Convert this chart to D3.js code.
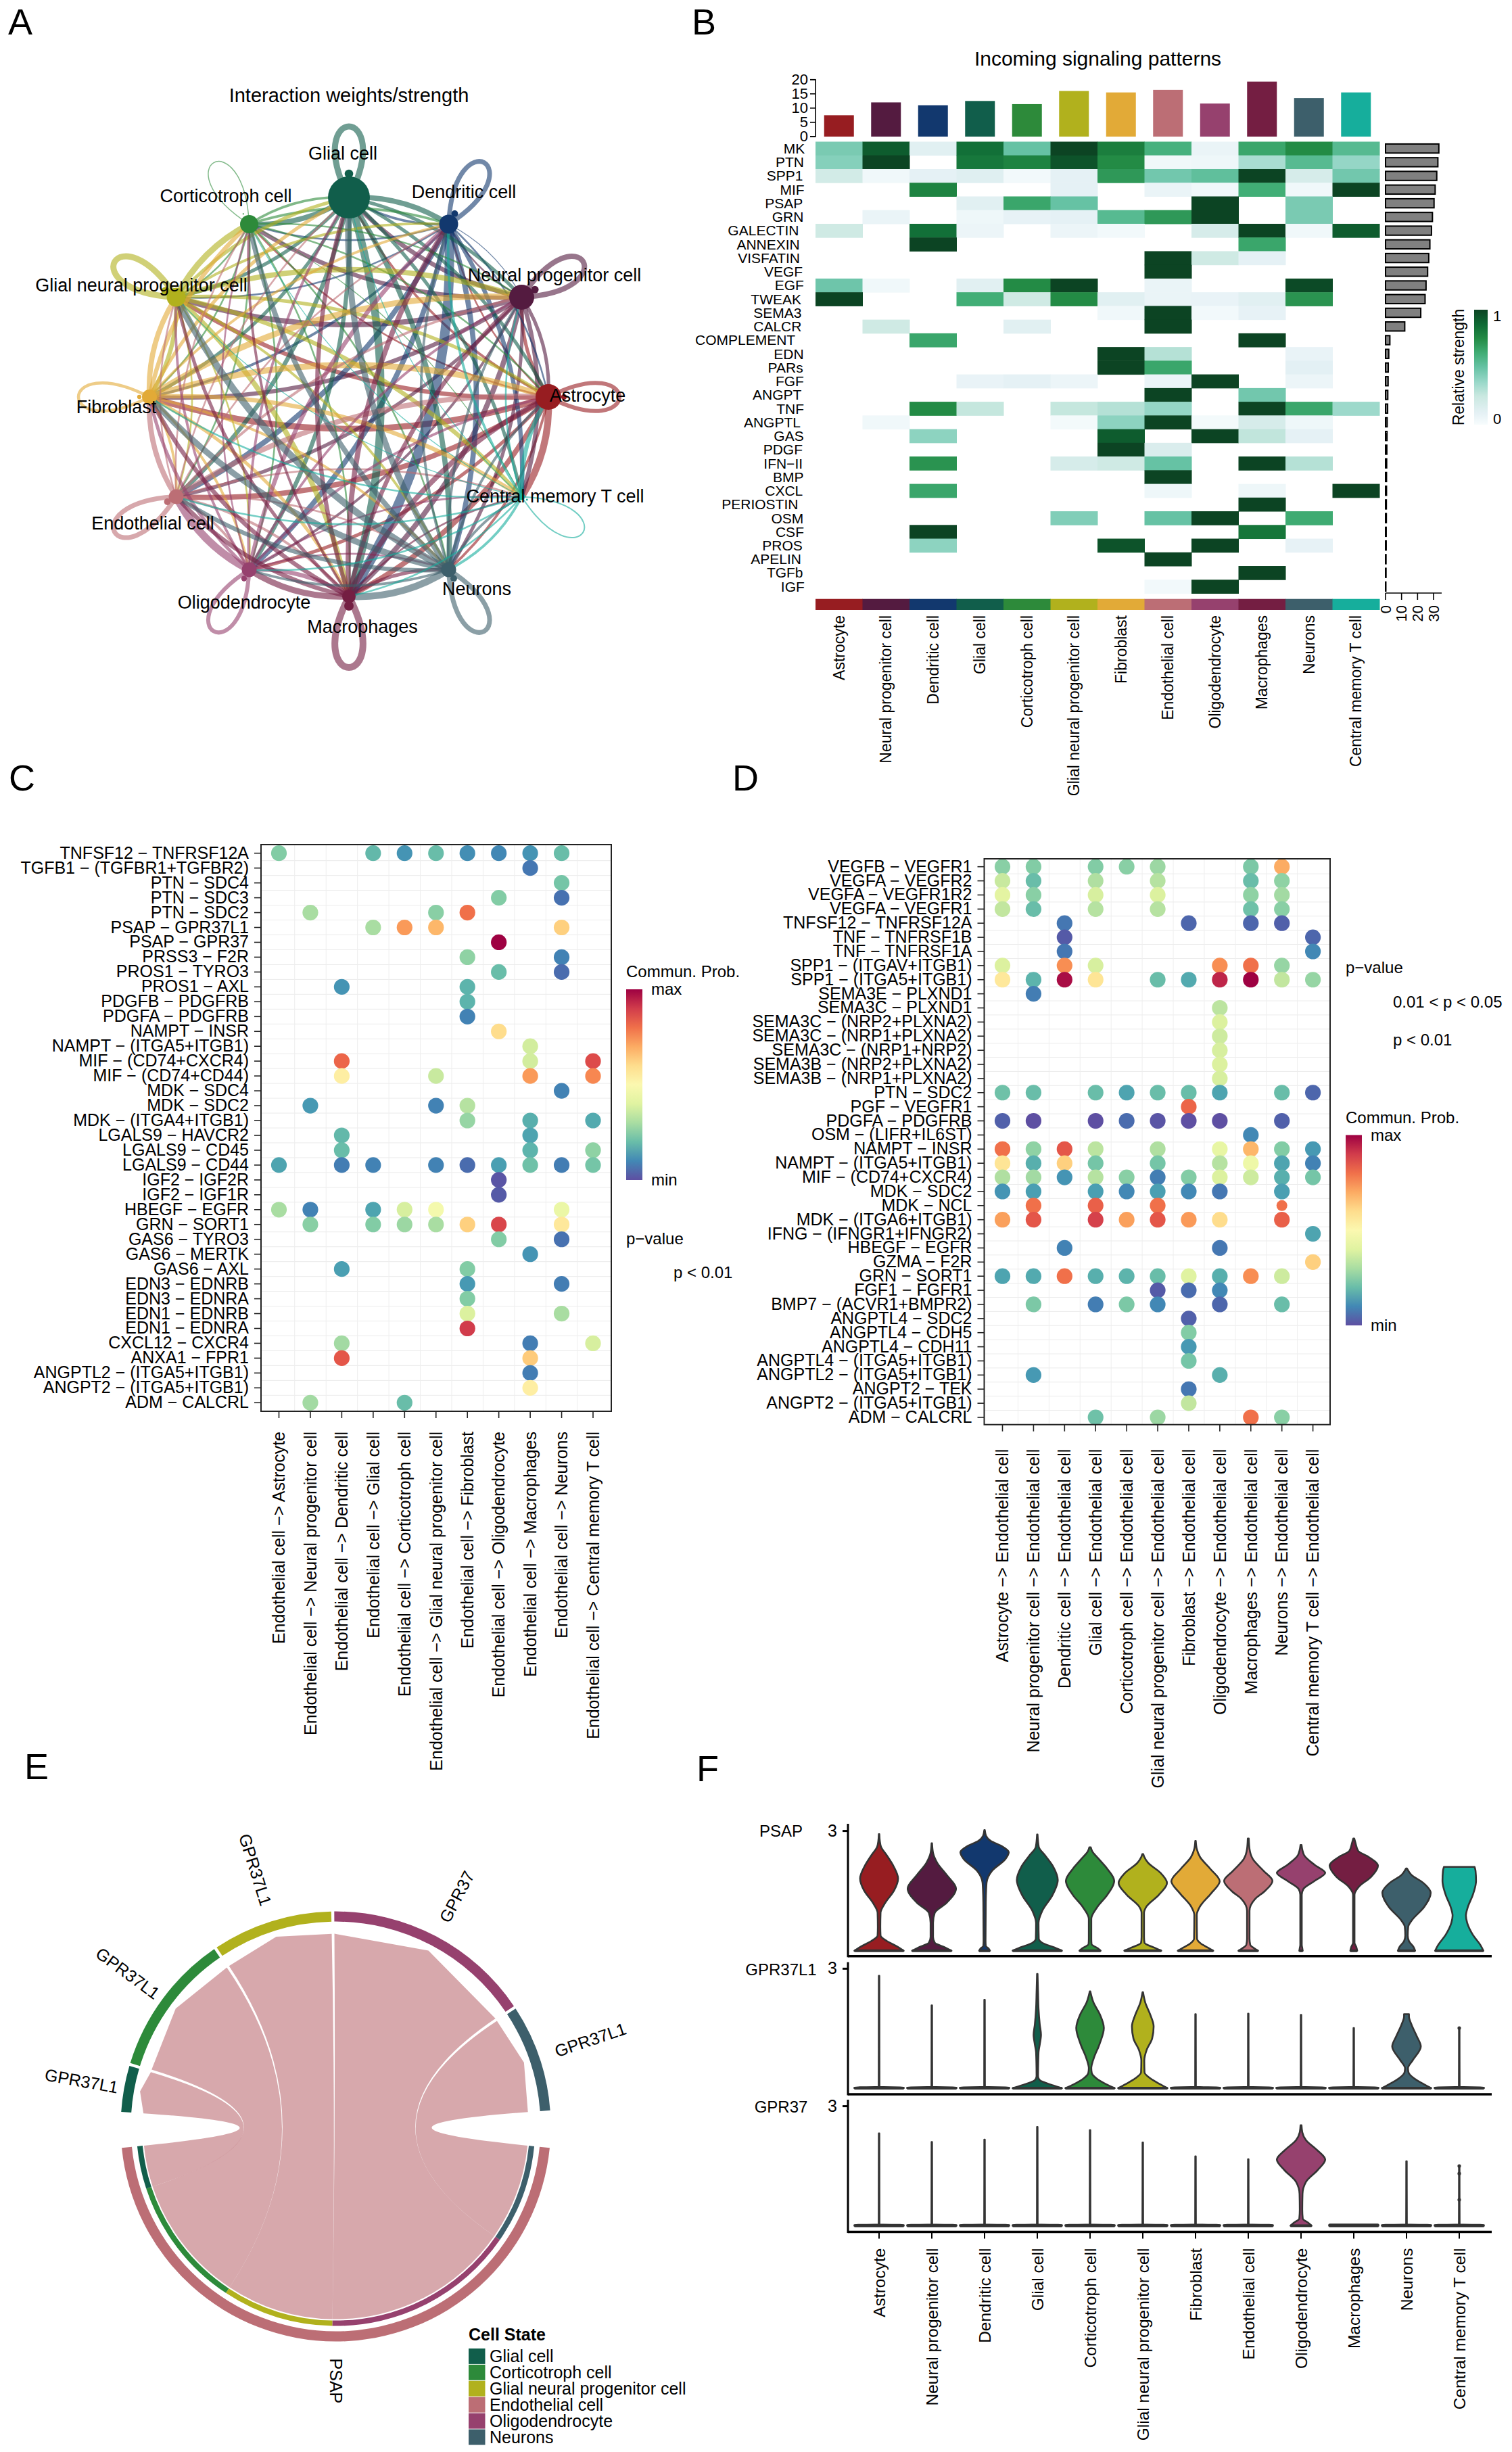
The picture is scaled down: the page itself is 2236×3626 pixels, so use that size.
<!DOCTYPE html>
<html><head><meta charset="utf-8">
<script src="https://cdn.jsdelivr.net/npm/d3@7"></script>
<style>html,body{margin:0;padding:0;background:#fff}svg{display:block}text{font-family:"Liberation Sans",Arial,sans-serif;fill:#000}</style>
</head><body><script>
// ---------- shared data ----------
const cells = ["Astrocyte","Neural progenitor cell","Dendritic cell","Glial cell","Corticotroph cell","Glial neural progenitor cell","Fibroblast","Endothelial cell","Oligodendrocyte","Macrophages","Neurons","Central memory T cell"];
const cellColors = ["#971D21","#541B40","#12386E","#115E4B","#2D8A3A","#B1B11D","#E2AA37","#BC6E75","#96416E","#741E42","#3D5F6B","#16AE9C"];

const netWeights = [
 [ 6,  4,  2,  3,  2,  5,  7,  6,  4,  6,  3,  8],
 [ 4,  8,  2,  5,  5,  6,  5,  4,  3,  6,  4,  5],
 [ 2,  1,  7,  3,  2,  2,  3,  6,  6, 11,  6,  5],
 [ 4,  4,  6,  9,  6,  4,  4,  5,  5,  9,  6,  4],
 [ 2,  2,  3,  3,  1.5,2,  2,  2,  2,  2,  2,  1],
 [ 4,  6,  3,  4,  7,  9,  5,  2,  2,  6,  3,  5],
 [ 7,  7,  3,  4,  5,  6,  4.5,3,  3,  4,  3,  5],
 [ 6,  3,  2,  2,  2,  2,  6,  7,  3,  3,  2,  2],
 [ 3,  3,  5,  3,  2,  3,  4,  9,  6,  5,  2,  2],
 [ 6,  5,  6,  5,  3,  4,  5,  5,  7, 10,  4,  2],
 [ 3,  3,  3,  7,  6,  8,  7,  5,  3,  8,  7,  3],
 [ 5,  2,  3,  1,  1,  1,  2,  2,  2,  2,  3,  2]];
const nodeSizes = [19,18.5,14,31,13.5,14,11,11,11,10,11,5];
const netLabelPos = [[869,585],[820,407],[686,284],[507,227],[334,290],[209,422],[172,602],[226,774],[361,891],[536,927],[705,871],[821,734]];

// ---------- B: heatmap ----------
const pathways = ["MK","PTN","SPP1","MIF","PSAP","GRN","GALECTIN","ANNEXIN","VISFATIN","VEGF","EGF","TWEAK","SEMA3","CALCR","COMPLEMENT","EDN","PARs","FGF","ANGPT","TNF","ANGPTL","GAS","PDGF","IFN−II","BMP","CXCL","PERIOSTIN","OSM","CSF","PROS","APELIN","TGFb","IGF"];
const heat = [
[.45,.92,.12,.85,.5,1,.8,.6,.07,.65,.75,.55],
[.42,1,0,.82,.78,.95,.75,.04,.05,.33,.55,.38],
[.2,.04,.1,.13,.03,.1,.7,.47,.52,1,.18,.47],
[0,0,.78,0,0,.1,0,.07,.04,.62,.04,1],
[0,0,0,.12,.65,.5,0,0,1,0,.45,0],
[0,.07,0,.05,.09,.1,.55,.7,1,0,.45,0],
[.22,0,.85,.06,0,.06,.03,0,.18,1,.04,.92],
[0,0,1,0,0,0,0,0,0,.65,0,0],
[0,0,0,0,0,0,0,1,.22,.1,0,0],
[0,0,0,0,0,0,0,1,0,0,0,0],
[.48,.04,0,.12,.75,1,0,.07,0,0,.98,0],
[1,0,0,.62,.22,.75,.12,.07,.08,.12,.72,0],
[0,0,0,0,0,0,.04,1,.03,.09,0,0],
[0,.22,0,0,.12,0,0,1,0,0,0,0],
[0,0,.65,0,0,0,0,0,0,1,0,0],
[0,0,0,0,0,0,1,.3,0,0,.08,0],
[0,0,0,0,0,0,1,.65,0,0,.11,0],
[0,0,0,.08,.1,.06,0,.07,1,0,.06,0],
[0,0,0,0,0,0,0,1,0,.47,0,0],
[0,0,.75,.26,0,.26,.3,.38,0,1,.65,.36],
[0,.04,0,0,0,.02,.4,1,.02,.18,.05,0],
[0,0,.4,0,0,0,.92,0,1,.27,.1,0],
[0,0,0,0,0,0,1,.16,0,0,0,0],
[0,0,.72,0,0,.18,.22,.5,0,1,.3,0],
[0,0,0,0,0,0,0,1,0,0,0,0],
[0,0,.65,0,0,0,0,.05,0,.05,0,1],
[0,0,0,0,0,0,0,0,0,1,0,0],
[0,0,0,0,0,.43,0,.5,1,0,.63,0],
[0,0,1,0,0,0,0,0,0,.83,0,0],
[0,0,.4,0,0,0,.95,0,1,0,.09,0],
[0,0,0,0,0,0,0,1,0,0,0,0],
[0,0,0,0,0,0,0,0,0,1,0,0],
[0,0,0,0,0,0,0,.03,1,0,0,0]];
const topBars = [7.5,12,11,12.5,11.4,16,15.5,16.4,11.6,19.3,13.5,15.5];
const rightBars = [33.3,32.7,32,31,30.3,29.3,28.7,27.7,27,26.3,25.3,24.7,22,12,2.7,2,1.7,1.6,1.4,1.3,1,.9,.8,.7,.6,.6,.5,.5,.4,.4,.3,.3,.2];
const heatStops = [0,.1,.25,.37,.5,.62,.75,.87,1];
const heatColors = ["#F7FCFD","#E5F1F5","#C9E8E0","#99D8C9","#66C2A4","#41AE76","#238B45","#0F6B35","#0C4423"];

// ---------- C: bubble, Endothelial cell -> others ----------
const cRows = ["TNFSF12 − TNFRSF12A","TGFB1 − (TGFBR1+TGFBR2)","PTN − SDC4","PTN − SDC3","PTN − SDC2","PSAP − GPR37L1","PSAP − GPR37","PRSS3 − F2R","PROS1 − TYRO3","PROS1 − AXL","PDGFB − PDGFRB","PDGFA − PDGFRB","NAMPT − INSR","NAMPT − (ITGA5+ITGB1)","MIF − (CD74+CXCR4)","MIF − (CD74+CD44)","MDK − SDC4","MDK − SDC2","MDK − (ITGA4+ITGB1)","LGALS9 − HAVCR2","LGALS9 − CD45","LGALS9 − CD44","IGF2 − IGF2R","IGF2 − IGF1R","HBEGF − EGFR","GRN − SORT1","GAS6 − TYRO3","GAS6 − MERTK","GAS6 − AXL","EDN3 − EDNRB","EDN3 − EDNRA","EDN1 − EDNRB","EDN1 − EDNRA","CXCL12 − CXCR4","ANXA1 − FPR1","ANGPTL2 − (ITGA5+ITGB1)","ANGPT2 − (ITGA5+ITGB1)","ADM − CALCRL"];
const cCols = ["Astrocyte","Neural progenitor cell","Dendritic cell","Glial cell","Corticotroph cell","Glial neural progenitor cell","Fibroblast","Oligodendrocyte","Macrophages","Neurons","Central memory T cell"].map(c=>"Endothelial cell −> "+c);
const cDots = [
[[0,.24],[3,.19],[4,.12],[5,.2],[6,.11],[7,.1],[8,.12],[9,.2]],
[[8,.07]],
[[9,.22]],
[[7,.24],[9,.06]],
[[1,.3],[5,.25],[6,.8]],
[[3,.3],[4,.73],[5,.68],[9,.63]],
[[7,1]],
[[6,.26],[9,.09]],
[[7,.2],[9,.05]],
[[2,.12],[6,.18]],
[[6,.18]],
[[6,.09]],
[[7,.6]],
[[8,.37]],
[[2,.82],[8,.37],[10,.87]],
[[2,.55],[5,.35],[8,.73],[10,.76]],
[[9,.09]],
[[1,.13],[5,.09],[6,.32]],
[[6,.27],[8,.17],[10,.16]],
[[2,.19],[8,.15]],
[[2,.2],[8,.18],[10,.26]],
[[0,.15],[2,.08],[3,.09],[5,.09],[6,.05],[7,.14],[8,.21],[9,.08],[10,.22]],
[[7,.01]],
[[7,.02]],
[[0,.3],[1,.09],[3,.15],[4,.38],[5,.46],[9,.43]],
[[1,.25],[3,.24],[4,.28],[5,.3],[6,.63],[7,.88],[9,.57]],
[[7,.24],[9,.06]],
[[8,.12]],
[[2,.14],[6,.24]],
[[6,.13],[9,.08]],
[[6,.24]],
[[6,.39],[9,.3]],
[[6,.9]],
[[2,.29],[8,.08],[10,.38]],
[[2,.85],[8,.64]],
[[8,.08]],
[[8,.55]],
[[1,.29],[4,.2]]];

// ---------- D: bubble, others -> Endothelial cell ----------
const dRows = ["VEGFB − VEGFR1","VEGFA − VEGFR2","VEGFA − VEGFR1R2","VEGFA − VEGFR1","TNFSF12 − TNFRSF12A","TNF − TNFRSF1B","TNF − TNFRSF1A","SPP1 − (ITGAV+ITGB1)","SPP1 − (ITGA5+ITGB1)","SEMA3E − PLXND1","SEMA3C − PLXND1","SEMA3C − (NRP2+PLXNA2)","SEMA3C − (NRP1+PLXNA2)","SEMA3C − (NRP1+NRP2)","SEMA3B − (NRP2+PLXNA2)","SEMA3B − (NRP1+PLXNA2)","PTN − SDC2","PGF − VEGFR1","PDGFA − PDGFRB","OSM − (LIFR+IL6ST)","NAMPT − INSR","NAMPT − (ITGA5+ITGB1)","MIF − (CD74+CXCR4)","MDK − SDC2","MDK − NCL","MDK − (ITGA6+ITGB1)","IFNG − (IFNGR1+IFNGR2)","HBEGF − EGFR","GZMA − F2R","GRN − SORT1","FGF1 − FGFR1","BMP7 − (ACVR1+BMPR2)","ANGPTL4 − SDC2","ANGPTL4 − CDH5","ANGPTL4 − CDH11","ANGPTL4 − (ITGA5+ITGB1)","ANGPTL2 − (ITGA5+ITGB1)","ANGPT2 − TEK","ANGPT2 − (ITGA5+ITGB1)","ADM − CALCRL"];
const dCols = ["Astrocyte","Neural progenitor cell","Dendritic cell","Glial cell","Corticotroph cell","Glial neural progenitor cell","Fibroblast","Oligodendrocyte","Macrophages","Neurons","Central memory T cell"].map(c=>c+" −> Endothelial cell");
const dDots = [
[[0,.25],[1,.24],[3,.24],[4,.25],[5,.28],[8,.23],[9,.7]],
[[0,.35],[1,.2],[3,.31],[5,.32],[8,.2],[9,.26]],
[[0,.41],[1,.25],[3,.38],[5,.39],[8,.26],[9,.29]],
[[0,.34],[1,.2],[3,.32],[5,.32],[8,.21],[9,.25]],
[[2,.07],[6,.04],[8,.04],[9,.03]],
[[2,.02],[10,.04]],
[[2,.07],[10,.1]],
[[0,.39],[2,.75],[3,.38],[7,.75],[8,.8],[9,.27]],
[[0,.57],[1,.18],[2,.98],[3,.58],[5,.2],[6,.16],[7,.94],[8,1],[9,.34],[10,.27]],
[[1,.08]],
[[7,.33]],
[[7,.39]],
[[7,.36]],
[[7,.38]],
[[7,.39]],
[[7,.38]],
[[0,.21],[1,.2],[3,.2],[4,.15],[5,.2],[6,.2],[7,.15],[9,.2],[10,.04]],
[[6,.82]],
[[0,.03],[1,0],[3,0],[4,.05],[5,.01],[6,0],[7,0],[9,.03]],
[[8,.1]],
[[0,.8],[1,.26],[2,.85],[3,.33],[5,.31],[7,.42],[8,.68],[9,.24],[10,.13]],
[[0,.58],[1,.17],[2,.63],[3,.22],[5,.22],[7,.32],[8,.44],[9,.15],[10,.09]],
[[0,.31],[1,.29],[2,.12],[3,.32],[4,.25],[5,.08],[6,.24],[7,.39],[8,.36],[9,.17],[10,.22]],
[[0,.12],[1,.14],[3,.14],[4,.1],[5,.14],[6,.1],[7,.07],[9,.14]],
[[1,.8],[3,.83],[5,.8],[9,.8,"small"]],
[[0,.72],[1,.85],[3,.89],[4,.72],[5,.85],[6,.73],[7,.6],[9,.83]],
[[10,.15]],
[[2,.09],[7,.07]],
[[10,.63]],
[[0,.15],[1,.16],[2,.8],[3,.17],[4,.18],[5,.2],[6,.4],[7,.17],[8,.75],[9,.36]],
[[5,.02],[6,.05],[7,.1]],
[[1,.23],[3,.08],[4,.23],[5,.1],[7,.04],[9,.2]],
[[6,.03]],
[[6,.24]],
[[6,.13]],
[[6,.22]],
[[1,.13],[7,.17]],
[[6,.07]],
[[6,.34]],
[[3,.21],[5,.28],[8,.8],[9,.25]]];

// ---------- E: chord ----------
const chordTargets = ["Neurons","Oligodendrocyte","Glial neural progenitor cell","Corticotroph cell","Glial cell"];
const chordValues = [29,56.5,32.5,38.5,12.5];
const chordGenes = ["GPR37L1","GPR37","GPR37L1","GPR37L1","GPR37L1"];
const legendCells = ["Glial cell","Corticotroph cell","Glial neural progenitor cell","Endothelial cell","Oligodendrocyte","Neurons"];

// ---------- F: violins, [expression, relative width]; thin ones = only a max value ----------
const genes = ["PSAP","GPR37L1","GPR37"];
const psapV = [
[[0,1],[.1,.75],[.25,.3],[.38,.06],[.6,.05],[.95,.06],[1.2,.25],[1.5,.6],[1.81,.77],[2.1,.6],[2.4,.3],[2.6,.08],[2.75,.03],[2.92,.01]],
[[0,.8],[.08,.55],[.2,.12],[.35,.05],[.7,.05],[.95,.12],[1.2,.6],[1.56,.98],[1.9,.6],[2.2,.22],[2.45,.05],[2.69,.01]],
[[0,.22],[.05,.17],[.12,.05],[.25,.04],[1.2,.05],[1.7,.08],[2,.3],[2.3,.85],[2.47,.98],[2.62,.7],[2.75,.25],[2.88,.06],[3.02,.01]],
[[0,1],[.08,.7],[.2,.2],[.3,.06],[.7,.05],[1,.2],[1.4,.62],[1.77,.83],[2.1,.65],[2.4,.3],[2.6,.06],[2.91,.01]],
[[0,.43],[.06,.32],[.17,.06],[.3,.05],[.8,.05],[1.1,.3],[1.4,.7],[1.75,.98],[2.05,.7],[2.3,.35],[2.5,.08],[2.59,.03]],
[[0,.75],[.07,.5],[.2,.07],[.35,.05],[.95,.05],[1.1,.14],[1.4,.65],[1.7,.98],[1.95,.72],[2.2,.22],[2.35,.06],[2.42,.02]],
[[0,.72],[.08,.5],[.18,.22],[.3,.06],[.9,.05],[1.1,.17],[1.45,.65],[1.74,.98],[2.05,.6],[2.35,.18],[2.55,.05],[2.75,.01]],
[[0,.4],[.06,.25],[.15,.08],[.3,.05],[1,.05],[1.3,.28],[1.5,.68],[1.75,.98],[2,.62],[2.3,.18],[2.55,.05],[2.81,.02]],
[[0,.07],[.07,.05],[.15,.03],[1.4,.03],[1.55,.1],[1.75,.55],[1.95,.98],[2.15,.55],[2.4,.12],[2.65,.02]],
[[0,.14],[.1,.1],[.2,.03],[1.4,.03],[1.6,.2],[1.85,.7],[2.13,.98],[2.35,.6],[2.5,.18],[2.7,.07],[2.81,.02]],
[[0,.35],[.1,.28],[.24,.1],[.38,.05],[.6,.07],[.75,.2],[1.1,.72],[1.45,.98],[1.7,.68],[1.9,.2],[2.06,.02]],
[[0,.98],[.15,.85],[.4,.55],[.7,.32],[.88,.27],[1.1,.35],[1.4,.55],[1.75,.68],[2,.66],[2.1,.62]]];
const gpr37l1V = [2.82,2.08,2.22,
[[0,1],[.07,.65],[.2,.1],[.3,.03],[.9,.05],[1.1,.1],[1.34,.15],[1.6,.1],[2,.05],[2.4,.03],[2.87,.01]],
[[0,1],[.1,.65],[.25,.25],[.38,.07],[.5,.05],[.75,.15],[1.1,.38],[1.51,.56],[1.85,.4],[2.15,.14],[2.43,.01]],
[[0,1],[.1,.7],[.25,.3],[.4,.07],[.7,.06],[.95,.15],[1.25,.38],[1.55,.44],[1.85,.3],[2.15,.1],[2.41,.01]],
1.86,1.87,1.84,1.51,
[[0,1],[.1,.7],[.25,.3],[.4,.08],[.5,.06],[.7,.25],[1.05,.58],[1.3,.42],[1.6,.2],[1.8,.1],[1.86,.1]],
1.51];
const gpr37V = [2.32,2.1,2.16,2.48,2.4,2.09,1.74,1.67,
[[0,.43],[.07,.3],[.18,.07],[.4,.05],[.8,.06],[1.1,.2],[1.4,.68],[1.66,.98],[1.9,.65],[2.15,.2],[2.35,.05],[2.52,.02]],
0,1.62,1.5];
const violinOutliers = [[1,11,1.51],[2,11,1.5],[2,11,1.31],[2,11,.65]];

// ---------- drawing ----------
const W=2236,H=3626;
const svg=d3.select("body").append("svg").attr("width",W).attr("height",H).attr("viewBox",[0,0,W,H]);
const colorOf=c=>cellColors[cells.indexOf(c)];
const txt=(g,t,x,y,fs,o={})=>g.append("text").attr("x",x).attr("y",y).attr("dy",".35em").attr("font-size",fs)
  .attr("text-anchor",o.a||"start").attr("font-weight",o.w||null).attr("transform",o.r!=null?`rotate(${o.r} ${x} ${y})`:null).text(t);

// panel letters
[["A",12,32],["B",1023,32],["C",13,1150],["D",1083,1150],["E",36,2612],["F",1030,2615]].forEach(l=>txt(svg,l[0],l[1],l[2],54));

// ===== A =====
(function(){
  const g=svg.append("g");
  const cx=516,cy=587,R=295;
  const ang=d3.scaleLinear().domain([0,12]).range([0,2*Math.PI]);
  const pos=i=>[cx+R*Math.cos(ang(i)),cy-R*Math.sin(ang(i))];
  const edgeWidth=d3.scaleLinear().domain([0,11]).range([0,14]);
  svg.append("clipPath").attr("id","clipA").append("rect").attr("x",0).attr("y",171).attr("width",1000).attr("height",900);
  const e=g.append("g").attr("clip-path","url(#clipA)").attr("fill","none").attr("stroke-opacity",.6);
  netWeights.forEach((row,i)=>row.forEach((w,j)=>{
    const p=d3.path(),[sx,sy]=pos(i);
    if(i===j){
      const a=ang(i),dx=Math.cos(a),dy=-Math.sin(a),L=140,P=72;
      p.moveTo(sx,sy);
      p.bezierCurveTo(sx+L*dx-P*dy,sy+L*dy+P*dx,sx+L*dx+P*dy,sy+L*dy-P*dx,sx,sy);
      e.append("path").attr("d",p.toString()).attr("stroke",cellColors[i]).attr("stroke-width",w);
      e.append("circle").attr("cx",sx+dx*(nodeSizes[i]+4)).attr("cy",sy+dy*(nodeSizes[i]+4)).attr("r",Math.max(1,w*.7)).attr("fill",cellColors[i]).attr("stroke","none");
    } else {
      const [tx,ty]=pos(j),c=.16;
      p.moveTo(sx,sy);
      p.quadraticCurveTo((sx+tx)/2+c*(ty-sy),(sy+ty)/2-c*(tx-sx),tx,ty);
      e.append("path").attr("d",p.toString()).attr("stroke",cellColors[i]).attr("stroke-width",edgeWidth(w));
    }
  }));
  g.selectAll("circle.n").data(cells).join("circle").attr("class","n")
    .attr("cx",(d,i)=>pos(i)[0]).attr("cy",(d,i)=>pos(i)[1]).attr("r",(d,i)=>nodeSizes[i]).attr("fill",(d,i)=>cellColors[i]);
  cells.forEach((c,i)=>txt(g,c,netLabelPos[i][0],netLabelPos[i][1],27,{a:"middle"}));
  txt(g,"Interaction weights/strength",516,141,29,{a:"middle"});
})();

// ===== B =====
(function(){
  const g=svg.append("g");
  const x=d3.scaleBand().domain(cells).range([1206,2040]);
  const y=d3.scaleBand().domain(pathways).range([209.5,877.5]);
  const col=d3.scaleLinear().domain(heatStops).range(heatColors);
  heat.forEach((r,i)=>r.forEach((v,j)=>{ if(v>0) g.append("rect").attr("x",x(cells[j])).attr("y",y(pathways[i])).attr("width",x.bandwidth()+.5).attr("height",y.bandwidth()+.5).attr("fill",col(v)); }));
  pathways.forEach(p=>{
    const t=txt(g,p,0,y(p)+y.bandwidth()/2,21,{a:"end"});
    const w=t.node().getComputedTextLength();
    t.attr("x",1194-.12*w);
  });
  // top bars
  const yt=d3.scaleLinear().domain([0,20]).range([202,117.7]);
  g.selectAll("rect.tb").data(topBars).join("rect").attr("class","tb").attr("x",(d,i)=>x(cells[i])+x.bandwidth()/2-22).attr("width",44)
    .attr("y",d=>yt(d)).attr("height",d=>yt(0)-yt(d)).attr("fill",(d,i)=>cellColors[i]);
  const ax=g.append("g").attr("transform","translate(1206,0)").call(d3.axisLeft(yt).tickValues([0,5,10,15,20]).tickSize(8).tickPadding(3).offset(0));
  ax.selectAll("text").attr("font-size",22).attr("fill","#000").style("font-family",'"Liberation Sans"');
  ax.selectAll("line,path").attr("stroke","#000").attr("stroke-width",1.6);
  // annotation strip
  g.selectAll("rect.an").data(cells).join("rect").attr("class","an").attr("x",d=>x(d)).attr("y",885.7).attr("width",x.bandwidth()+.5).attr("height",16.3).attr("fill",(d,i)=>cellColors[i]);
  cells.forEach(c=>txt(g,c,x(c)+x.bandwidth()/2,910,23,{a:"end",r:-90}));
  // right bars
  const xr=d3.scaleLinear().domain([0,30]).range([2049,2120]);
  g.selectAll("rect.rb").data(rightBars).join("rect").attr("class","rb").attr("x",xr(0)).attr("y",(d,i)=>y(pathways[i])+y.bandwidth()/2-6.7)
    .attr("width",d=>xr(d)-xr(0)).attr("height",13.4).attr("fill","#808080").attr("stroke","#000").attr("stroke-width",2);
  const ar=g.append("g").attr("transform","translate(0,877)").call(d3.axisBottom(xr).tickValues([0,10,20,30]).tickSize(10).tickPadding(8).offset(0));
  ar.select(".domain").remove();
  ar.append("line").attr("x1",2049).attr("x2",2132).attr("stroke","#000").attr("stroke-width",1.6);
  ar.selectAll(".tick line").attr("stroke","#000").attr("stroke-width",1.6);
  ar.selectAll("text").attr("font-size",22).attr("fill","#000").style("font-family",'"Liberation Sans"').attr("text-anchor","end").attr("transform","rotate(-90)").attr("x",-18).attr("y",0).attr("dy",".35em");
  txt(g,"Incoming signaling patterns",1623.5,86,30,{a:"middle"});
  // color legend
  const gid=svg.append("defs").append("linearGradient").attr("id","gB").attr("x1",0).attr("x2",0).attr("y1",1).attr("y2",0);
  heatStops.forEach((s,i)=>gid.append("stop").attr("offset",s).attr("stop-color",heatColors[i]));
  g.append("rect").attr("x",2180).attr("y",458).attr("width",20).attr("height",170).attr("fill","url(#gB)");
  txt(g,"1",2208,467,22); txt(g,"0",2208,619,22);
  txt(g,"Relative strength",2157,543,23,{a:"middle",r:-90});
})();

// ===== C / D =====
const spec=t=>d3.interpolateSpectral(1-t);
function bubble(o){
  const g=svg.append("g");
  const y=d3.scalePoint().domain(o.rows).range([o.y0,o.y1]);
  const x=d3.scalePoint().domain(o.cols).range([o.x0,o.x1]);
  const sx=x.step(),sy=y.step();
  o.rows.slice(0,-1).forEach(r=>g.append("line").attr("x1",o.L).attr("x2",o.R).attr("y1",y(r)+sy/2).attr("y2",y(r)+sy/2).attr("stroke","#ebebeb").attr("stroke-width",1));
  o.cols.slice(0,-1).forEach(c=>g.append("line").attr("y1",o.T).attr("y2",o.B).attr("x1",x(c)+sx/2).attr("x2",x(c)+sx/2).attr("stroke","#eeeeee").attr("stroke-width",1));
  o.dots.forEach((row,i)=>row.forEach(d=>{
    g.append("circle").attr("cx",x(o.cols[d[0]])).attr("cy",y(o.rows[i])).attr("r",d[2]?8:11.6).attr("fill",spec(d[1]));
  }));
  g.append("rect").attr("x",o.L).attr("y",o.T).attr("width",o.R-o.L).attr("height",o.B-o.T).attr("fill","none").attr("stroke","#222").attr("stroke-width",2);
  const ay=g.append("g").attr("transform",`translate(${o.L},0)`).call(d3.axisLeft(y).tickSize(10).tickPadding(8).offset(0));
  ay.select(".domain").remove();
  ay.selectAll("line").attr("stroke","#222").attr("stroke-width",1.6);
  ay.selectAll("text").attr("font-size",25).attr("fill","#000").style("font-family",'"Liberation Sans"');
  const ax=g.append("g").attr("transform",`translate(0,${o.B})`).call(d3.axisBottom(x).tickSize(10).offset(0));
  ax.select(".domain").remove();
  ax.selectAll("line").attr("stroke","#222").attr("stroke-width",1.6);
  ax.selectAll("text").attr("font-size",25).attr("fill","#000").style("font-family",'"Liberation Sans"')
    .attr("text-anchor","end").attr("transform","rotate(-90)").attr("x",-o.labelGap).attr("y",0).attr("dy",".35em");
  // legends
  const id="g"+o.id;
  const gr=svg.append("defs").append("linearGradient").attr("id",id).attr("x1",0).attr("x2",0).attr("y1",1).attr("y2",0);
  d3.range(0,1.001,.1).forEach(s=>gr.append("stop").attr("offset",s).attr("stop-color",spec(s)));
  const l=o.legend;
  txt(g,"Commun. Prob.",l.x,l.titleY,24);
  g.append("rect").attr("x",l.x).attr("y",l.top).attr("width",24).attr("height",l.bottom-l.top).attr("fill",`url(#${id})`);
  txt(g,"max",l.x+37,l.top,24); txt(g,"min",l.x+37,l.bottom,24);
  txt(g,"p−value",l.x,l.pY,24);
  l.p.forEach(p=>txt(g,p[0],p[1],p[2],24));
}
bubble({id:"C",rows:cRows,cols:cCols,dots:cDots,y0:1261.7,y1:2074.3,x0:412.5,x1:877,L:386,R:904,T:1249,B:2087,labelGap:30,
  legend:{x:926,titleY:1437,top:1463,bottom:1745,pY:1832,p:[["p < 0.01",996,1882]]}});
bubble({id:"D",rows:dRows,cols:dCols,dots:dDots,y0:1281.7,y1:2096,x0:1482.5,x1:1941.6,L:1455.5,R:1967,T:1270,B:2106.7,labelGap:36,
  legend:{x:1990,titleY:1653,top:1678.5,bottom:1960,pY:1431,p:[["0.01 < p < 0.05",2060,1482],["p < 0.01",2060,1538]]}});

// ===== E =====
(function(){
  const g=svg.append("g").attr("transform","translate(496.5,3144.6)");
  const rad=d=>d*Math.PI/180;
  const pt=(a,r)=>[r*Math.sin(rad(a)),-r*Math.cos(rad(a))];
  const total=d3.sum(chordValues);
  const src=d3.scaleLinear().domain([0,total]).range([95.7,264.3]);
  const k=(264.3-95.7)/total, gap=.8;
  // target sectors, clockwise from the gap on the left
  const tgt={}; let a=273.9;
  [4,3,2,1,0].forEach(i=>{tgt[i]=[a,a+chordValues[i]*k]; a=tgt[i][1]+gap;});
  let cum=0;
  const rE=285,rT=294;
  const arc=d3.arc();
  const ring=(a0,a1,r0,r1,c)=>g.append("path").attr("d",arc({innerRadius:r0,outerRadius:r1,startAngle:rad(a0),endAngle:rad(a1)})).attr("fill",c);
  const labelR={"Glial cell":327,"Corticotroph cell":327};
  chordValues.forEach((v,i)=>{
    const s0=src(cum),s1=src(cum+v); cum+=v;
    const [t0,t1]=tgt[i],tm=(t0+t1)/2;
    const p=d3.path();
    p.moveTo(...pt(s0,rE));
    p.arc(0,0,rE,rad(s0-90),rad(s1-90),false);
    p.quadraticCurveTo(0,0,...pt(t0,rE));
    p.lineTo(...pt(tm,rT));
    p.lineTo(...pt(t1,rE));
    p.quadraticCurveTo(0,0,...pt(s0,rE));
    p.closePath();
    g.append("path").attr("d",p.toString()).attr("fill",colorOf("Endothelial cell")).attr("fill-opacity",.6);
    ring(s0,s1,287,295,colorOf(chordTargets[i]));
    ring(t0,t1,303,318,colorOf(chordTargets[i]));
    // labels
    const norm=tm>=360?tm-360:tm, P=pt(norm,labelR[chordTargets[i]]||343);
    if(norm<180) txt(g,chordGenes[i],P[0],P[1],25,{r:norm-90});
    else txt(g,chordGenes[i],P[0],P[1],25,{a:"end",r:norm-270});
  });
  ring(95.7,264.3,303,318,colorOf("Endothelial cell"));
  const P=pt(180,343); txt(g,"PSAP",P[0],P[1],25,{r:90});
  const l=svg.append("g");
  txt(l,"Cell State",693,3452,25,{w:"bold"});
  const ly=d3.scalePoint().domain(legendCells).range([3484.4,3604]);
  legendCells.forEach(c=>{
    l.append("rect").attr("x",693).attr("y",ly(c)-11.5).attr("width",24.5).attr("height",23).attr("fill",colorOf(c));
    txt(l,c,724,ly(c),25);
  });
})();

// ===== F =====
(function(){
  const g=svg.append("g");
  const x=d3.scalePoint().domain(cells).range([1300,2158]);
  const w=d3.scaleLinear().domain([0,1]).range([0,36.5]);
  const panels=[{data:psapV,y0:2884.8,y3:2707.6,T:2697,B:2892.8},{data:gpr37l1V,y0:3088,y3:2911.3,T:2901.6,B:3097},{data:gpr37V,y0:3291.4,y3:3114.6,T:3105,B:3300.6}];
  panels.forEach((p,pi)=>{
    const y=d3.scaleLinear().domain([0,3]).range([p.y0,p.y3]);
    p.data.forEach((d,i)=>{
      const cx=x(cells[i]);
      const prof=Array.isArray(d)?d:(d>0?[[0,1],[.02,1],[.03,.015],[d,.01]]:[[0,1],[.02,1],[.03,.98]]);
      const area=d3.area().curve(d3.curveMonotoneY).x0(q=>cx-w(q[1])).x1(q=>cx+w(q[1])).y(q=>y(q[0]));
      g.append("path").attr("d",area(prof)).attr("fill",cellColors[i]).attr("stroke","#333").attr("stroke-width",2.6).attr("stroke-linejoin","round");
      g.append("line").attr("x1",cx-w(prof[0][1])).attr("x2",cx+w(prof[0][1])).attr("y1",y(0)).attr("y2",y(0)).attr("stroke","#333").attr("stroke-width",4);
    });
    violinOutliers.filter(o=>o[0]===pi).forEach(o=>g.append("circle").attr("cx",x(cells[o[1]])).attr("cy",y(o[2])).attr("r",2.6).attr("fill","#333"));
    const ay=g.append("g").attr("transform","translate(1254,0)").call(d3.axisLeft(y).tickValues([3]).tickSize(8).tickPadding(8).tickFormat(d3.format("d")).offset(0));
    ay.select(".domain").remove();
    ay.selectAll("line").attr("stroke","#000").attr("stroke-width",3);
    ay.selectAll("text").attr("font-size",25).attr("fill","#000").style("font-family",'"Liberation Sans"');
    g.append("line").attr("x1",1254).attr("x2",1254).attr("y1",p.T).attr("y2",p.B+1.5).attr("stroke","#000").attr("stroke-width",3);
    g.append("line").attr("x1",1254).attr("x2",2206).attr("y1",p.B).attr("y2",p.B).attr("stroke","#000").attr("stroke-width",3.5);
    txt(g,genes[pi],1155,[2708,2912.5,3116][pi],24,{a:"middle"});
    if(pi===2){
      const ax=g.append("g").attr("transform",`translate(0,${p.B})`).call(d3.axisBottom(x).tickSize(10).offset(0));
      ax.select(".domain").remove();
      ax.selectAll("line").attr("stroke","#000").attr("stroke-width",2);
      ax.selectAll("text").attr("font-size",24.5).attr("fill","#000").style("font-family",'"Liberation Sans"')
        .attr("text-anchor","end").attr("transform","rotate(-90)").attr("x",-24).attr("y",0).attr("dy",".35em");
    }
  });
})();
</script></body></html>
